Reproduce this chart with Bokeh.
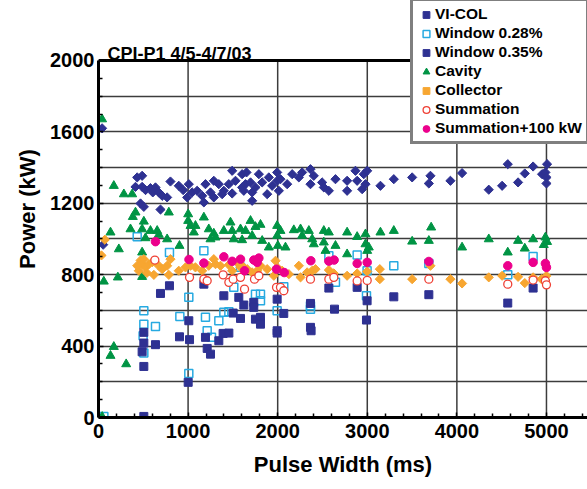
import numpy as np
from bokeh.plotting import figure
from bokeh.models import (FixedTicker, Legend, LegendItem, Label, Range1d, Span, Title)
from bokeh.embed import file_html
from bokeh.resources import INLINE

# ---------------- data ----------------
vicol_x = [40, 52, 487, 432, 413, 487, 525, 580, 636, 606, 673, 711, 766, 803, 896, 945, 1008, 990,
           1045, 469, 506, 692, 1101, 1157, 1194, 1250, 1287, 1343, 1399, 1454, 1492, 1529, 1603,
           1603, 1176, 1287, 1492, 1380, 1652, 1641, 1697, 1622, 1715, 1752, 1790, 1715, 1827, 1901,
           1883, 1938, 1994, 1994, 2031, 2013, 2106, 2162, 2236, 2273, 2366, 2366, 2403, 2496, 2515,
           2571, 2645, 2775, 2775, 2868, 2887, 2961, 2999, 2980, 2943, 3147, 3296, 3501, 3705, 3687,
           3928, 4058, 4356, 4505, 4568, 4683, 4758, 4851, 4951, 4988, 5007, 5000, 5000]
vicol_y = [1620, 968, 1354, 1345, 1292, 1292, 1274, 1285, 1289, 1261, 1261, 1242, 1233, 1322, 1298,
           1274, 1307, 1233, 1261, 1199, 1180, 1165, 1270, 1242, 1307, 1261, 1326, 1307, 1270, 1307,
           1382, 1326, 1363, 1289, 1205, 1233, 1255, 1251, 1373, 1307, 1317, 1270, 1261, 1289, 1363,
           1214, 1317, 1345, 1251, 1298, 1373, 1326, 1335, 1270, 1307, 1363, 1345, 1373, 1391, 1307,
           1354, 1317, 1289, 1270, 1335, 1326, 1270, 1382, 1326, 1363, 1382, 1307, 1279, 1298, 1335,
           1345, 1354, 1311, 1326, 1369, 1276, 1298, 1419, 1317, 1367, 1406, 1363, 1373, 1419, 1345,
           1311]

w028_x = [60, 432, 506, 506, 498, 506, 636, 792, 908, 1008, 1008, 1176, 1194, 1213, 1261, 1343, 1399,
          1455, 1510, 1585, 1752, 1808, 1808, 1994, 2068, 2366, 2366, 2571, 2645, 2887, 2991, 2998,
          3296, 3687, 4568, 4851]
w028_y = [6, 1012, 598, 523, 458, 361, 510, 925, 566, 673, 247, 934, 561, 486, 449, 542, 589, 592,
          729, 841, 691, 691, 654, 598, 732, 626, 607, 906, 757, 911, 682, 822, 850, 863, 799, 902]

w035_x = [487, 506, 506, 506, 506, 636, 692, 792, 904, 1001, 1008, 1016, 1176, 1194, 1213, 1250, 1343,
          1391, 1399, 1455, 1503, 1566, 1585, 1622, 1733, 1733, 1752, 1808, 1808, 1994, 1994, 1994,
          2068, 2366, 2366, 2373, 2571, 2634, 2887, 2998, 2991, 3296, 3687, 4568, 4851]
w035_y = [368, 6, 286, 417, 477, 408, 695, 738, 452, 197, 542, 436, 747, 449, 387, 355, 430, 471,
          682, 473, 585, 673, 555, 630, 645, 617, 551, 561, 523, 663, 486, 473, 583, 639, 505, 486,
          725, 607, 729, 654, 546, 676, 688, 641, 725]

cav_x = [40, 41, 59, 134, 171, 309, 171, 134, 216, 227, 283, 376, 383, 413, 357, 487, 506, 524, 487,
         487, 580, 655, 673, 766, 785, 904, 1001, 1001, 1027, 1064, 1082, 1176, 1231, 1250, 1287, 1306,
         1399, 1473, 1492, 1510, 1585, 1603, 1641, 1697, 1715, 1752, 1808, 1827, 1901, 1994, 1994, 2002,
         2031, 2087, 2180, 2255, 2273, 2348, 2385, 2403, 2515, 2515, 2534, 2571, 2645, 2775, 2775, 2887,
         2980, 2980, 2999, 3017, 3147, 3296, 3501, 3687, 3713, 4058, 4356, 4568, 4683, 4758, 4851, 4970,
         4988, 5007]
cav_y = [1671, 4, 762, 346, 396, 299, 1298, 1037, 785, 943, 1251, 1251, 1124, 1149, 1055, 1055, 1098,
         1005, 925, 788, 1046, 1046, 1024, 999, 1149, 962, 1139, 1102, 1074, 1037, 1074, 1121, 1055, 999,
         1031, 1009, 1046, 1093, 1046, 999, 1055, 994, 1046, 1102, 1018, 1068, 1080, 990, 953, 1074, 1018,
         962, 1046, 953, 1050, 1055, 1018, 1046, 999, 971, 1046, 981, 934, 1037, 962, 1037, 915, 1012,
         1027, 971, 934, 953, 1037, 1046, 986, 990, 1065, 953, 999, 925, 990, 947, 999, 967, 1009, 984]

col_x = [33, 71, 432, 450, 470, 487, 506, 524, 540, 562, 600, 618, 673, 711, 766, 785, 803, 896, 971,
         1027, 1082, 1157, 1231, 1287, 1306, 1362, 1455, 1492, 1548, 1585, 1603, 1660, 1715, 1771, 1808,
         1883, 1957, 1976, 1994, 2050, 2125, 2236, 2255, 2329, 2385, 2422, 2571, 2627, 2775, 2887, 2999,
         3140, 3140, 3501, 3705, 3928, 4058, 4356, 4505, 4683, 4758, 4851, 4944, 5000]
col_y = [908, 996, 850, 822, 880, 859, 887, 841, 810, 859, 870, 799, 850, 831, 850, 799, 887, 822, 841,
         850, 841, 822, 850, 887, 859, 850, 855, 822, 869, 841, 850, 831, 813, 822, 850, 831, 794, 878,
         841, 822, 803, 850, 785, 813, 822, 831, 826, 807, 794, 807, 818, 831, 775, 775, 850, 775, 751,
         785, 794, 788, 753, 785, 775, 794]

sum_x = [629, 1016, 1176, 1213, 1391, 1455, 1503, 1585, 1630, 1741, 1790, 1987, 2031, 2068, 2366, 2571,
         2627, 2887, 2999, 3687, 4568, 4851, 4988, 5000]
sum_y = [882, 785, 775, 766, 799, 757, 775, 785, 719, 775, 794, 729, 729, 710, 775, 775, 785, 765,
         768, 775, 747, 770, 766, 743]

sum100_x = [636, 1010, 1176, 1399, 1492, 1585, 1630, 1734, 1771, 1790, 1987, 2073, 2370, 2571, 2630,
            2887, 2999, 3687, 4568, 4851, 4988, 5000]
sum100_y = [985, 885, 865, 900, 875, 887, 822, 882, 869, 893, 831, 812, 878, 876, 882, 863, 869, 874,
            850, 869, 863, 841]

x_ticks = [0, 1000, 2000, 3000, 4000, 5000]
y_ticks = [0, 400, 800, 1200, 1600, 2000]
y_max = 2000
series_names = ["VI-COL", "Window 0.28%", "Window 0.35%", "Cavity", "Collector", "Summation",
                "Summation+100 kW"]
title_text = "CPI-P1 4/5-4/7/03"
x_label = "Pulse Width (ms)"
y_label = "Power (kW)"

FONT = "Liberation Sans"
NAVY = "#2E3192"
CYAN = "#27AAE1"
GREEN = "#009444"
ORANGE = "#F7A631"
RED = "#EF4136"
MAGENTA = "#EC008C"
GRID = "#3c3c3c"

p = figure(width=587, height=489, output_backend="svg", toolbar_location=None,
           x_range=Range1d(0, 5458), y_range=Range1d(0, 2336),
           min_border_left=98, min_border_right=0, min_border_top=0, min_border_bottom=72)
p.outline_line_color = None
p.background_fill_color = "white"
p.border_fill_color = "white"

# axes
for ax in (p.xaxis[0], p.yaxis[0]):
    ax.axis_line_width = 3
    ax.axis_line_color = "black"
    ax.major_tick_in = 5
    ax.major_tick_out = 0
    ax.minor_tick_in = 4
    ax.minor_tick_out = 0
    ax.major_tick_line_width = 1.5
    ax.minor_tick_line_width = 1.5
    ax.major_label_text_font = FONT
    ax.major_label_text_font_style = "bold"
    ax.major_label_text_font_size = "20px"
    ax.major_label_text_color = "black"

p.xaxis[0].ticker = FixedTicker(ticks=x_ticks, minor_ticks=[v for v in range(200, 5460, 200) if v % 1000])
p.yaxis[0].ticker = FixedTicker(ticks=y_ticks, minor_ticks=[v for v in range(100, 2000, 100) if v % 400])
p.yaxis[0].bounds = (0, y_max)
p.xaxis[0].major_label_standoff = 6
p.yaxis[0].major_label_standoff = 4

# grid: horizontal lines every 200 up to 2000, vertical lines at the x ticks up to 2000
p.xgrid.visible = False
p.ygrid.ticker = FixedTicker(ticks=list(range(200, y_max + 1, 200)))
p.ygrid.grid_line_color = GRID
p.ygrid.grid_line_width = 1.5
p.segment(x0=x_ticks[1:], y0=0, x1=x_ticks[1:], y1=y_max, line_color=GRID, line_width=1.5)
p.add_layout(Span(location=y_max, dimension="width", line_color="black", line_width=3))

# series
r1 = p.scatter(vicol_x, vicol_y, marker="square", angle=np.pi / 4, size=6.5,
               fill_color=NAVY, line_color=NAVY)
r2 = p.scatter(w028_x, w028_y, marker="square", size=8, fill_color=None, line_color=CYAN, line_width=1.5)
r3 = p.scatter(w035_x, w035_y, marker="square", size=8, fill_color=NAVY, line_color=NAVY)
r4 = p.scatter(cav_x, cav_y, marker="triangle", size=9, fill_color=GREEN, line_color=GREEN)
r5 = p.scatter(col_x, col_y, marker="square", angle=np.pi / 4, size=6.5,
               fill_color=ORANGE, line_color=ORANGE)
r6 = p.scatter(sum_x, sum_y, marker="circle", size=8, fill_color="white", line_color=RED, line_width=1.3)
r7 = p.scatter(sum100_x, sum100_y, marker="circle", size=8.5, fill_color=MAGENTA, line_color=MAGENTA)

legend = Legend(items=[LegendItem(label=n, renderers=[r]) for n, r in
                       zip(series_names, [r1, r2, r3, r4, r5, r6, r7])],
                location=(312, 273), border_line_color="black", border_line_width=3,
                padding=4, spacing=1, glyph_width=18, glyph_height=17, label_height=17,
                label_standoff=0, label_text_font=FONT, label_text_font_style="bold",
                label_text_font_size="15.5px", label_text_color="black",
                background_fill_color="white", background_fill_alpha=1.0)
p.add_layout(legend, "center")

# texts
p.add_layout(Label(x=100, y=2034, text=title_text, text_font=FONT, text_font_style="bold",
                   text_font_size="18px", text_color="black", text_baseline="alphabetic",
                   text_align="left"))
p.add_layout(Title(text=x_label, align="center", offset=26, text_font=FONT, text_font_style="bold",
                   text_font_size="22px", text_color="black", standoff=19), "below")
p.add_layout(Title(text=y_label, align="center", offset=-11, text_font=FONT, text_font_style="bold",
                   text_font_size="22px", text_color="black", standoff=16), "left")

open("out.html", "w").write(file_html(p, INLINE))
